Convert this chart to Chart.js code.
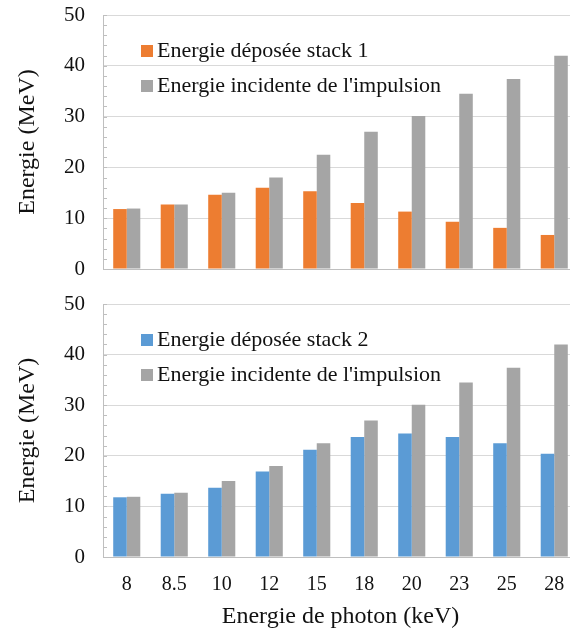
<!DOCTYPE html>
<html>
<head>
<meta charset="utf-8">
<script src="https://cdn.jsdelivr.net/npm/chart.js@4/dist/chart.umd.min.js"></script>
<style>
  html, body { margin: 0; padding: 0; background: #fff; overflow: hidden; }
  #wrap { width: 580px; }
  canvas { display: block; }
</style>
</head>
<body>
<div id="wrap">
  <canvas id="topChart" width="580" height="290"></canvas>
  <canvas id="bottomChart" width="580" height="341"></canvas>
</div>
<script>
  const categories = ["8", "8.5", "10", "12", "15", "18", "20", "23", "25", "28"];
  const deposeStack1 = [11.8, 12.7, 14.6, 16.0, 15.3, 13.0, 11.3, 9.3, 8.1, 6.7];
  const deposeStack2 = [11.8, 12.5, 13.7, 16.9, 21.2, 23.7, 24.4, 23.7, 22.5, 20.4];
  const incidente = [11.9, 12.7, 15.0, 18.0, 22.5, 27.0, 30.1, 34.5, 37.4, 42.0];
  const yMin = 0, yMax = 50, yStep = 10, yMinorStep = 2;

  const serif = "'Liberation Serif', 'Times New Roman', serif";

  // legend drawn inside the plot area, like the original
  const innerLegend = {
    id: "innerLegend",
    afterDraw(chart) {
      const { ctx, chartArea } = chart;
      const x = chartArea.left + 38;
      let y = chartArea.top + 36;
      ctx.save();
      ctx.font = "22px " + serif;
      ctx.textBaseline = "middle";
      chart.data.datasets.forEach((ds) => {
        ctx.fillStyle = ds.backgroundColor;
        ctx.fillRect(x, y - 6, 12, 12);
        ctx.fillStyle = "#111";
        ctx.fillText(ds.label, x + 16, y);
        y += 35;
      });
      ctx.restore();
    },
  };

  // small minor tick marks on the inside of the value axis
  const minorTicks = {
    id: "minorTicks",
    afterDraw(chart) {
      const { ctx, chartArea, scales } = chart;
      ctx.save();
      ctx.strokeStyle = "#BFBFBF";
      ctx.lineWidth = 1;
      for (let v = yMin; v <= yMax; v += yMinorStep) {
        const py = Math.round(scales.y.getPixelForValue(v)) + 0.5;
        ctx.beginPath();
        ctx.moveTo(chartArea.left, py);
        ctx.lineTo(chartArea.left + 4, py);
        ctx.stroke();
      }
      ctx.restore();
    },
  };

  const makeOptions = (showX, padding) => ({
    responsive: false,
    animation: false,
    devicePixelRatio: 1,
    layout: { padding },
    plugins: { legend: { display: false }, tooltip: { enabled: false } },
    scales: {
      x: {
        grid: { display: false },
        border: { display: true, color: "#BFBFBF" },
        ticks: {
          display: showX,
          padding: 8,
          color: "#111",
          font: { family: serif, size: 20 },
        },
        title: {
          display: showX,
          text: "Energie de photon (keV)",
          color: "#111",
          padding: { top: 2, bottom: 0 },
          font: { family: serif, size: 24 },
        },
        afterFit: (s) => { s.height = showX ? 74 : 0; },
      },
      y: {
        min: yMin,
        max: yMax,
        ticks: {
          stepSize: yStep,
          padding: 0,
          color: "#111",
          font: { family: serif, size: 21 },
        },
        grid: { color: "#D9D9D9", drawTicks: true, tickLength: 18, tickColor: "rgba(0,0,0,0)" },
        border: { color: "#BFBFBF" },
        title: {
          display: true,
          text: "Energie (MeV)",
          color: "#111",
          padding: { top: 13, bottom: 0 },
          font: { family: serif, size: 24 },
        },
        afterFit: (s) => { s.width = 103; },
      },
    },
  });

  const barDefaults = { categoryPercentage: 0.57, barPercentage: 1.0 };

  new Chart(document.getElementById("topChart"), {
    type: "bar",
    data: {
      labels: categories,
      datasets: [
        { label: "Energie déposée stack 1", data: deposeStack1, backgroundColor: "#ED7D31", ...barDefaults },
        { label: "Energie incidente de l'impulsion", data: incidente, backgroundColor: "#A5A5A5", ...barDefaults },
      ],
    },
    options: makeOptions(false, { top: 15, bottom: 21, left: 0, right: 2 }),
    plugins: [innerLegend, minorTicks],
  });

  new Chart(document.getElementById("bottomChart"), {
    type: "bar",
    data: {
      labels: categories,
      datasets: [
        { label: "Energie déposée stack 2", data: deposeStack2, backgroundColor: "#5B9BD5", ...barDefaults },
        { label: "Energie incidente de l'impulsion", data: incidente, backgroundColor: "#A5A5A5", ...barDefaults },
      ],
    },
    options: makeOptions(true, { top: 14, bottom: 0, left: 0, right: 2 }),
    plugins: [innerLegend, minorTicks],
  });
</script>
</body>
</html>
